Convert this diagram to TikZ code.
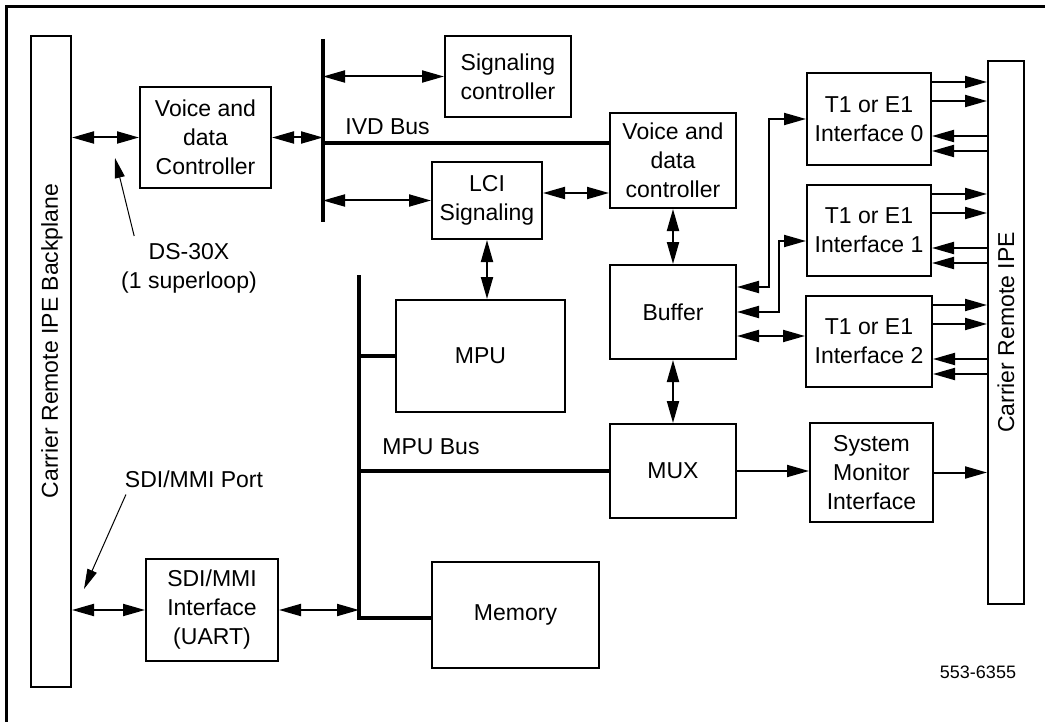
\documentclass[tikz,border=0pt]{standalone}
\usepackage{fontspec}
\setmainfont{Liberation Sans}
\usepackage{tikz}
\usetikzlibrary{arrows.meta,calc,positioning}
\newcommand{\diafont}{\fontsize{11.5}{14.5}\selectfont}
\tikzset{
  node distance=1.2cm,
  box/.style={draw,line width=1pt,align=center,inner sep=2pt,font=\diafont},
  bar/.style={draw,line width=1pt,inner sep=0pt},
  bus/.style={line width=2pt},
  link/.style={line width=1pt},
  pointer/.style={line width=0.5pt,-{Triangle[length=10pt,width=5pt]}}
}

\begin{document}
\begin{tikzpicture}[x=0.5pt,y=-0.5pt]
          \useasboundingbox (0,0) rectangle (1045,722);
          \draw[line width=1.5pt] (6,722) -- (6,7) -- (1045,7);

          \begin{scope}%[every node/.style={box}]
              \node[bar,minimum width=20pt,minimum height=325.5pt] (backplane) at (51,361.5) {};
              \node[rotate=90,font=\diafont] (bptext) at (52,341) {Carrier Remote IPE Backplane};
              \node[bar,minimum width=18pt,minimum height=271.5pt,font=\diafont] (ipe) at (1006,332.5)
                    {\rotatebox{90}{Carrier Remote IPE}};

              \node[box,minimum width=65.5pt,minimum height=50.5pt] (vdcl) at (205.5,137.5) {Voice and\\data\\Controller};
              \node[box,minimum width=63pt,minimum height=40.5pt] (sig) at (508,76.5) {Signaling\\controller};
              \node[box,minimum width=55pt,minimum height=38.5pt] (lci) at (487,200.5) {LCI\\Signaling};
              \node[box,minimum width=63pt,minimum height=47.5pt] (vdcr) at (673,160.5) {Voice and\\data\\controller};
              \node[box,minimum width=63pt,minimum height=47pt] (buffer) [below=27.5pt of vdcr] {Buffer};
              \node[box,minimum width=63pt,minimum height=47pt] (mux) [below=31.5pt of buffer] {MUX};
              \node[box,minimum width=84.5pt,minimum height=56pt] (mpu) at (480.5,356) {MPU};
              \node[box,minimum width=83.5pt,minimum height=53pt] (memory) at (515.5,615) {Memory};
              \node[box,minimum width=66pt,minimum height=51pt] (sdi) at (212,610) {SDI/MMI\\Interface\\(UART)};

              \node[box,minimum width=62pt,minimum height=46pt] (t1a) at (869,119) {T1 or E1\\Interface 0};
              \node[box,minimum width=62pt,minimum height=45.5pt] (t1b) [below=9pt of t1a] {T1 or E1\\Interface 1};
              \node[box,minimum width=63pt,minimum height=45.5pt] (t1c) [below=9pt of t1b] {T1 or E1\\Interface 2};
              \node[box,minimum width=61.5pt,minimum height=49.5pt] (smi) at (871.5,472.5) {System\\Monitor\\Interface};

              \node[font=\diafont,align=center] (ds) at (189,268) {DS-30X\\(1 superloop)};
              \node[font=\diafont] (port) at (194,479) {SDI/MMI Port};
              \node[font=\diafont,anchor=west,inner sep=0pt] (ivdlabel) at (345,127) {IVD Bus};
              \node[font=\diafont,anchor=west,inner sep=0pt] (mpulabel) at (382,447) {MPU Bus};
              \node[font=\fontsize{9}{11}\selectfont] (fignum) at (978,672) {553-6355};

              \coordinate (ivdtop) at (323,39);
              \coordinate (ivdbot) at (323,222);
              \coordinate (ivd) at (323,143);
              \coordinate (mputop) at (359,275);
              \coordinate (mpubot) at (359,618);
              \coordinate (dstip) at (115,158);
              \coordinate (porttip) at (84,589);
          \end{scope}

          % buses
          \draw[bus] (ivdtop) -- (ivdbot);
          \draw[bus] (ivd) -- (ivd -| vdcr.west);
          \draw[bus] (mputop) -- (mpubot) -- (mpubot -| memory.west);
          \draw[bus] (mputop |- mpu.west) -- (mpu.west);
          \draw[bus] (mputop |- mux.west) -- (mux.west);

          \begin{scope}[>={Triangle[length=11pt,width=6pt]},
                        every edge/.style={draw=black,line width=1pt}]
              \path [<->] (vdcl.west -| backplane.east) edge (vdcl.west);
              \path [<->] (vdcl.east) edge (vdcl.east -| ivdtop);
              \path [<->] (sig.west -| ivdtop) edge (sig.west);
              \path [<->] (lci.west -| ivdtop) edge (lci.west);
              \coordinate (lcir) at ([yshift=3.75pt]lci.east);
              \path [<->] (lcir) edge (lcir -| vdcr.west);
              \path [<->] (lci.south) edge (lci.south |- mpu.north);
              \path [<->] (vdcr.south) edge (buffer.north);
              \path [<->] (buffer.south) edge (mux.north);
              \path [->] (mux.east) edge (mux.east -| smi.west);
              \path [->] (smi.east) edge (smi.east -| ipe.west);
              \path [<->] (sdi.west -| backplane.east) edge (sdi.west);
              \path [<->] (sdi.east) edge (sdi.east -| mputop);

              \draw[link,<->] ([yshift=12.5pt]buffer.east) -- ++(32,0) |- (t1a.west);
              \draw[link,<->] (buffer.east) -- ++(42,0) |- ([yshift=-5.25pt]t1b.west);
              \coordinate (bufc) at ([yshift=-12pt]buffer.east);
              \draw[link,<->] (bufc) -- (bufc -| t1c.west);

              \foreach \t in {t1a,t1b,t1c} {
                \foreach \d in {-5,-14.5} {
                  \coordinate (p) at ([yshift=\d pt]\t.north east);
                  \draw[link,->] (p) -- (p -| ipe.west);
                }
                \foreach \d in {-32,-39.5} {
                  \coordinate (p) at ([yshift=\d pt]\t.north east);
                  \draw[link,<-] (p) -- (p -| ipe.west);
                }
              }

              \draw[pointer] ([xshift=10pt]ds.north west) -- (dstip);
              \draw[pointer] ([xshift=4pt]port.south west) -- (porttip);
          \end{scope}

\end{tikzpicture}
\end{document}
